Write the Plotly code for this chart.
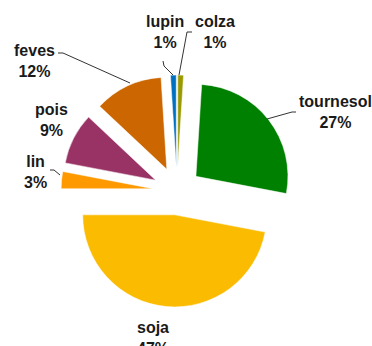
import plotly.graph_objects as go

W, H = 372, 346

# Crop shares (%), clockwise from 12 o'clock
crops = ["colza", "tournesol", "soja", "lin", "pois", "feves", "lupin"]
shares = [1, 27, 47, 3, 9, 12, 1]
colors = ["#999900", "#008000", "#FABB00", "#FF9900", "#993366", "#CC6600", "#0070C0"]

# label centres (px) and leader polylines (px) per crop
label_pos = {
    "colza": (215, 32), "tournesol": (335, 112), "soja": (153, 338),
    "lin": (35, 172), "pois": (52, 120), "feves": (34, 61), "lupin": (165, 32),
}
leaders = {
    "colza": [(192, 32), (187, 32), (179, 75)],
    "tournesol": [(296, 112), (292, 112), (267, 119)],
    "feves": [(58, 53), (63, 53), (130, 83)],
    "lupin": [(163, 61), (164, 66), (173, 75)],
    "lin": [(50, 170), (54, 170), (60, 175)],
}


def px(x, y):
    return x / W, 1 - y / H


cx, cy, half = 177, 191, 116
fig = go.Figure(go.Pie(
    labels=crops,
    values=shares,
    marker=dict(colors=colors, line=dict(color="white", width=0.5)),
    sort=False,
    direction="clockwise",
    rotation=0,
    pull=[0.26] * len(crops),
    textinfo="none",
    hoverinfo="label+percent",
    domain=dict(x=[(cx - half) / W, (cx + half) / W],
                y=[1 - (cy + half) / H, 1 - (cy - half) / H]),
))

for name, val in zip(crops, shares):
    x, y = px(*label_pos[name])
    fig.add_annotation(
        x=x, y=y, xref="paper", yref="paper", showarrow=False,
        text=f"<b>{name}<br>{val}%</b>",
        font=dict(family="Liberation Sans, Arial", size=16, color="#1a1a1a"),
        xanchor="center", yanchor="middle",
    )

for name, pts in leaders.items():
    p = [px(*q) for q in pts]
    path = "M " + " L ".join(f"{a},{b}" for a, b in p)
    fig.add_shape(type="path", path=path, xref="paper", yref="paper",
                  line=dict(color="#333333", width=1))

fig.update_layout(
    width=W, height=H,
    margin=dict(l=0, r=0, t=0, b=0),
    paper_bgcolor="white", plot_bgcolor="white",
    showlegend=False,
)

fig.write_html("out.html")
